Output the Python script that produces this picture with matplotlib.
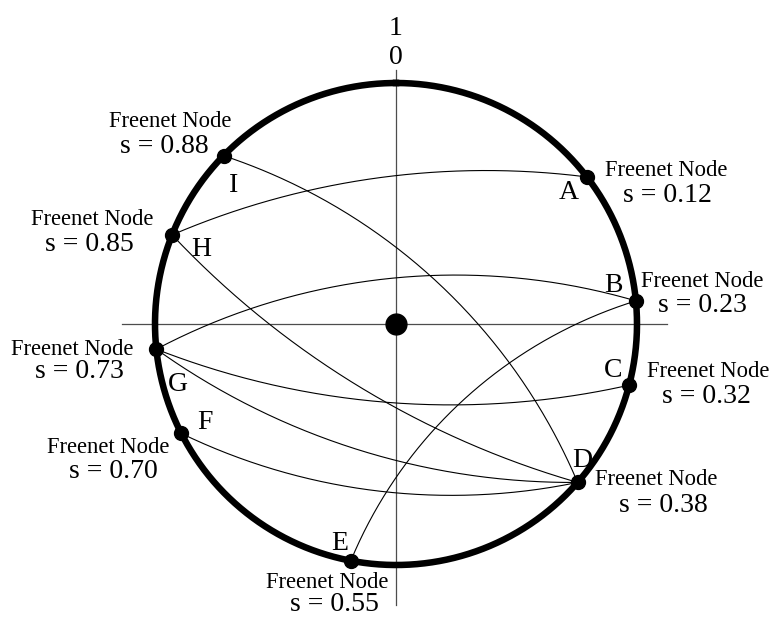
import numpy as np
import matplotlib.pyplot as plt

plt.rcParams['font.family'] = ['Liberation Serif', 'DejaVu Serif']

# nodes on the ring: name, location s, angle on ring (deg, clockwise from top)
node_names = ['A', 'B', 'C', 'D', 'E', 'F', 'G', 'H', 'I']
node_s = ['0.12', '0.23', '0.32', '0.38', '0.55', '0.70', '0.73', '0.85', '0.88']
node_angle = [52.4, 84.5, 104.7, 131.1, 190.8, 243.0, 264.0, 291.7, 314.3]

# links between nodes and how much each curve bows (px, + = left of from->to)
edges = [('I', 'D'), ('H', 'A'), ('H', 'D'), ('G', 'B'),
         ('G', 'C'), ('G', 'D'), ('F', 'D'), ('E', 'B')]
edge_bend = [52, 28, -32, 47, -35.5, -35, -33, 43]

# layout (pixels)
CX, CY, R = 396, 324, 241
# (freenet x, freenet baseline, s x, s baseline, letter x, letter baseline)
label_pos = {
    'A': (666, 176, 667, 202, 569, 199),
    'B': (702, 287, 702, 312, 613, 292),
    'C': (708, 377, 706, 403, 613, 377),
    'D': (656, 485, 663, 512, 582, 467),
    'E': (327, 588, 334, 611, 340, 550),
    'F': (108, 453, 113, 478, 205, 429),
    'G': (72, 355, 79, 378, 178, 391),
    'H': (92, 225, 89, 251, 201, 256),
    'I': (170, 127, 164, 153, 234, 192),
}


def node_xy(name):
    # position relative to ring centre, y up
    a = np.radians(node_angle[node_names.index(name)])
    return np.array([R * np.sin(a), R * np.cos(a)])


def arc(p, q, h, n=200):
    m = (p + q) / 2
    d = q - p
    c = np.linalg.norm(d) / 2
    d = d / (2 * c)
    nrm = np.array([-d[1], d[0]])
    rad = (c ** 2 + h ** 2) / (2 * abs(h))
    u = np.linspace(-c, c, n)
    off = np.sqrt(rad ** 2 - u ** 2) - (rad - abs(h))
    pts = m[None, :] + u[:, None] * d[None, :] + np.sign(h) * off[:, None] * nrm[None, :]
    return CX + pts[:, 0], CY - pts[:, 1]


fig = plt.figure(figsize=(7.72, 6.17), dpi=100)
ax = fig.add_axes([0, 0, 1, 1])
ax.set_xlim(0, 772)
ax.set_ylim(617, 0)
ax.axis('off')

# axes cross
ax.plot([122, 667], [CY, CY], color='0.3', lw=0.9, zorder=1)
ax.plot([CX, CX], [70, 605], color='0.3', lw=0.9, zorder=1)

# links
for (a, b), h in zip(edges, edge_bend):
    xs, ys = arc(node_xy(a), node_xy(b), h)
    ax.plot(xs, ys, color='black', lw=0.8, zorder=2)

# ring
t = np.linspace(0, 2 * np.pi, 400)
ax.plot(CX + R * np.sin(t), CY - R * np.cos(t), color='black', lw=4.7, zorder=3)

# nodes
for name in node_names:
    x, y = node_xy(name)
    ax.plot(CX + x, CY - y, 'o', color='black', ms=10, zorder=4)
ax.plot(CX, CY, 'o', color='black', ms=15, zorder=4)

# labels
for name, s in zip(node_names, node_s):
    fx, fy, sx, sy, lx, ly = label_pos[name]
    ax.text(fx, fy, 'Freenet Node', fontsize=16.3, ha='center', va='baseline')
    ax.text(sx, sy, 's = ' + s, fontsize=20, ha='center', va='baseline')
    ax.text(lx, ly, name, fontsize=20, ha='center', va='baseline')

ax.text(CX, 35, '1', fontsize=20, ha='center', va='baseline')
ax.text(CX, 64, '0', fontsize=20, ha='center', va='baseline')

fig.savefig('out.png', dpi=100)
